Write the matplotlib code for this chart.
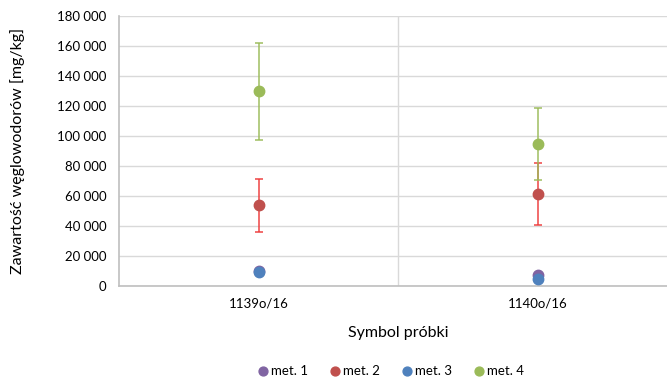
import numpy as np
import matplotlib.pyplot as plt
from matplotlib.ticker import FuncFormatter

plt.rcParams['font.family'] = ['Lato', 'DejaVu Sans']

samples = ['1139o/16', '1140o/16']
methods = ['met. 1', 'met. 2', 'met. 3', 'met. 4']
values = {
    'met. 1': [10000, 7300],
    'met. 2': [53800, 61100],
    'met. 3': [9300, 4600],
    'met. 4': [130000, 95000],
}
errors = {
    'met. 1': [0, 0],
    'met. 2': [17700, 20600],
    'met. 3': [0, 0],
    'met. 4': [32300, 24000],
}
colors = ['#8064A2', '#C0504D', '#4F81BD', '#9BBB59']
err_colors = ['#8064A2', '#EE3B3B', '#4F81BD', '#9BBB59']

fig = plt.figure(figsize=(6.67, 3.78), dpi=100)
ax = fig.add_axes([0.1784, 0.2434, 0.838, 0.714])

x = np.array([0.5, 1.5])
for m, c, ec in zip(methods, colors, err_colors):
    if max(errors[m]) > 0:
        ax.errorbar(x, values[m], yerr=errors[m], fmt='none', ecolor=ec,
                    elinewidth=1.4, capsize=3, capthick=1.4, alpha=0.75, zorder=3)
    ax.plot(x, values[m], 'o', color=c, markersize=7.5, label=m, zorder=4,
            linestyle='none')

ax.set_xlim(0, 2)
ax.set_ylim(0, 180000)
ax.set_yticks(np.arange(0, 180001, 20000))
ax.yaxis.set_major_formatter(FuncFormatter(lambda v, p: f'{int(v):,}'.replace(',', ' ')))
ax.set_xticks(x)
ax.set_xticklabels(samples)
ax.axvline(1, color='#D9D9D9', lw=1, zorder=1)
ax.grid(axis='y', color='#D9D9D9', lw=1, zorder=0)
ax.set_axisbelow(True)
ax.tick_params(length=0, labelsize=9.5, colors='#000000')
ax.tick_params(axis='y', pad=9)
ax.tick_params(axis='x', pad=8)
for s in ['top', 'right']:
    ax.spines[s].set_visible(False)
for s in ['left', 'bottom']:
    ax.spines[s].set_color('#BFBFBF')
    ax.spines[s].set_linewidth(1.2)

ax.set_ylabel('Zawartość węglowodorów [mg/kg]', fontsize=11.5)
ax.yaxis.set_label_coords(-0.168, 0.5)
ax.set_xlabel('Symbol próbki', fontsize=11.5)
ax.xaxis.set_label_coords(0.499, -0.148)

fig.legend(loc='center', bbox_to_anchor=(0.585, 0.018), ncol=4, frameon=False,
           fontsize=9.5, handletextpad=0.05, columnspacing=1.6, markerscale=0.85,
           handlelength=1.0)

fig.savefig('out.png', dpi=100)
